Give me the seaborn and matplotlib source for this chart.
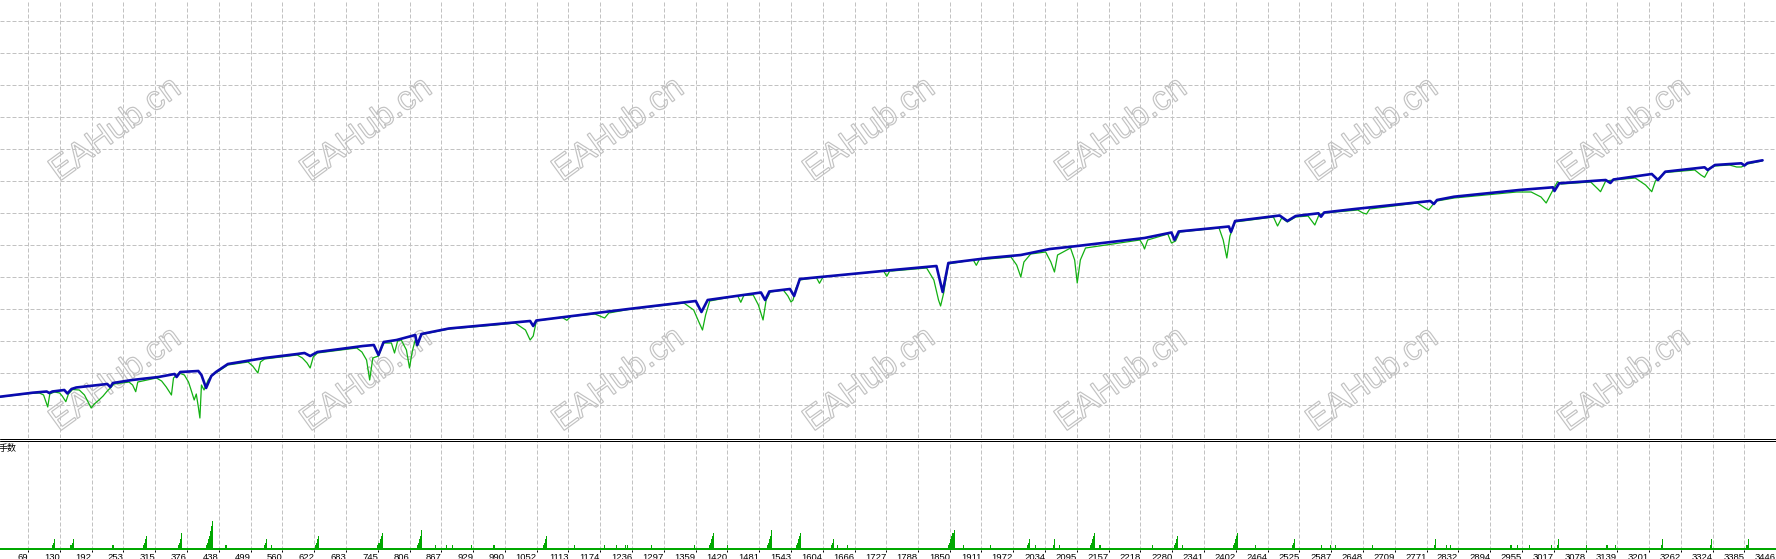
import numpy as np
import pandas as pd
import matplotlib
matplotlib.use("Agg")
import matplotlib.pyplot as plt
import seaborn as sns
from matplotlib.textpath import TextPath
from matplotlib.patches import PathPatch
from matplotlib.font_manager import FontProperties, findfont
from matplotlib.transforms import Affine2D, IdentityTransform
from matplotlib.lines import Line2D

# ---------------- data ----------------
tick_labels = [69, 130, 192, 253, 315, 376, 438, 499, 560, 622, 683, 745, 806, 867, 929, 990,
               1052, 1113, 1174, 1236, 1297, 1359, 1420, 1481, 1543, 1604, 1666, 1727, 1788,
               1850, 1911, 1972, 2034, 2095, 2157, 2218, 2280, 2341, 2402, 2464, 2525, 2587,
               2648, 2709, 2771, 2832, 2894, 2955, 3017, 3078, 3139, 3201, 3262, 3324, 3385, 3446]

balance_trade = [0, 15, 78, 105, 110, 116, 139, 145, 153, 162, 222, 228, 233, 270, 321, 352, 356,
                 363, 398, 404, 413, 423, 432, 455, 526, 589, 603, 614, 628, 716, 737, 746, 756,
                 781, 817, 821, 829, 882, 1039, 1045, 1051, 1229, 1359, 1370, 1382, 1485, 1493,
                 1501, 1541, 1549, 1560, 1750, 1824, 1836, 1847, 1924, 1987, 2043, 2096, 2226,
                 2278, 2284, 2292, 2389, 2393, 2401, 2487, 2502, 2518, 2562, 2567, 2573, 2632,
                 2778, 2785, 2791, 2824, 2950, 3015, 3018, 3027, 3117, 3126, 3132, 3206, 3218,
                 3232, 3308, 3314, 3328, 3379, 3385, 3391, 3420]
balance_value = [10083, 10086, 10126, 10138, 10123, 10138, 10153, 10118, 10163, 10178, 10213,
                 10183, 10223, 10253, 10283, 10313, 10283, 10333, 10343, 10303, 10173, 10293,
                 10333, 10413, 10473, 10513, 10523, 10493, 10533, 10593, 10603, 10503, 10633,
                 10653, 10703, 10603, 10713, 10768, 10843, 10793, 10848, 10963, 11043, 10933,
                 11053, 11128, 11053, 11138, 11163, 11093, 11263, 11358, 11393, 11133, 11423,
                 11473, 11503, 11563, 11593, 11673, 11728, 11653, 11738, 11788, 11733, 11843,
                 11898, 11843, 11893, 11920, 11886, 11928, 11963, 12043, 12013, 12053, 12086,
                 12153, 12180, 12143, 12220, 12253, 12223, 12258, 12313, 12253, 12336, 12380,
                 12353, 12403, 12420, 12398, 12423, 12450]

equity_trade = [0, 15, 72, 91, 99, 107, 111, 120, 130, 135,
                142, 147, 155, 168, 178, 185, 191, 197, 206, 214,
                222, 228, 235, 264, 271, 277, 281, 317, 327, 336,
                346, 350, 361, 371, 379, 384, 390, 394, 398, 401,
                404, 409, 417, 423, 455, 494, 503, 513, 518, 526,
                589, 599, 608, 614, 620, 628, 704, 714, 723, 729,
                735, 746, 756, 771, 777, 783, 790, 800, 806, 811,
                817, 821, 829, 882, 972, 1010, 1030, 1039, 1045, 1051,
                1100, 1110, 1118, 1164, 1183, 1191, 1229, 1336, 1355, 1365, 1372, 1378, 1386,
                1440, 1446, 1452,
                1470, 1480, 1489, 1495, 1503, 1528, 1537, 1543, 1547, 1552,
                1560, 1592, 1598, 1605, 1722, 1728, 1734, 1738, 1805, 1819, 1828, 1832, 1838,
                1847, 1895, 1901, 1907, 1924, 1968,
                1979, 1987, 1993, 2006, 2035, 2045, 2052, 2058, 2083, 2091,
                2096, 2102, 2112, 2217, 2223, 2226, 2232, 2271, 2278, 2286,
                2294, 2370, 2378, 2385, 2391, 2401, 2475, 2483, 2491, 2502,
                2518, 2542, 2555, 2563, 2573, 2638, 2648, 2655, 2661, 2753,
                2768, 2775, 2784, 2791, 2824, 2945, 2973, 2992, 3002, 3012,
                3024, 3031, 3088, 3102, 3107, 3117, 3132, 3174, 3194, 3206,
                3213, 3232, 3289, 3301, 3308, 3318, 3328, 3356, 3370, 3379,
                3391, 3420]
equity_value = [10083, 10083, 10118, 10123, 10103, 9983, 10113, 10133, 10123, 10093,
                10036, 10113, 10158, 10153, 10103, 10033, 9973, 10013, 10053, 10093,
                10143, 10173, 10213, 10233, 10203, 10136, 10233, 10273, 10243, 10183,
                10103, 10273, 10323, 10303, 10233, 10153, 10053, 10113, 9983, 9873,
                10203, 10153, 10253, 10293, 10403, 10433, 10393, 10323, 10433, 10463,
                10503, 10473, 10423, 10373, 10483, 10523, 10573, 10533, 10453, 10253,
                10473, 10493, 10623, 10623, 10523, 10643, 10653, 10553, 10373, 10533,
                10653, 10593, 10708, 10763, 10803, 10823, 10753, 10653, 10693, 10843,
                10882, 10850, 10890, 10913, 10873, 10923, 10958, 11023, 10953, 10833, 10753, 10903, 11043,
                11095, 11030, 11100,
                11103, 11003, 10853, 11053, 11133, 11153, 11093, 11033, 11053, 11163,
                11253, 11278, 11220, 11285, 11343, 11290, 11346, 11343, 11373, 11253, 11053, 10993, 11123,
                11413, 11455, 11400, 11460, 11463, 11483,
                11403, 11283, 11433, 11513, 11533, 11433, 11333, 11503, 11573, 11453,
                11223, 11453, 11573, 11653, 11603, 11563, 11653, 11713, 11623, 11643,
                11733, 11773, 11653, 11473, 11693, 11833, 11883, 11793, 11873, 11833,
                11883, 11893, 11803, 11903, 11923, 11953, 11923, 11913, 11963, 12023,
                11973, 11953, 12013, 12043, 12073, 12133, 12133, 12083, 12023, 12123,
                12236, 12213, 12233, 12163, 12136, 12243, 12253, 12273, 12203, 12136,
                12243, 12328, 12353, 12303, 12280, 12373, 12393, 12403, 12383, 12383,
                12413, 12445]

base_lot = 0.01          # lot of every ordinary trade
trade_count = 3450

spike_trade = [116, 118, 120,
               152, 154, 156,
               233, 235,
               292, 294, 296, 298,
               360, 362, 364, 366,
               413, 415, 417, 419, 421, 423, 425,
               450, 452,
               525, 527, 529,
               540,
               625, 627, 629, 631,
               745, 747, 749, 751, 753,
               822, 824, 826, 828, 830,
               856, 878, 889, 925, 968, 970,
               1064, 1066, 1068, 1070,
               1125, 1182, 1206, 1224, 1228, 1274, 1356,
               1385, 1387, 1389, 1391, 1393,
               1420,
               1497, 1499, 1501, 1503, 1505,
               1553, 1555, 1557, 1559, 1561,
               1621, 1623, 1625,
               1633, 1652,
               1848, 1850, 1852, 1854, 1856, 1858,
               1877, 1929,
               2000, 2002, 2004,
               2016,
               2051, 2053,
               2062,
               2121, 2123, 2125, 2127, 2129,
               2140, 2242,
               2283, 2285, 2287, 2289,
               2299,
               2398, 2400, 2402, 2404, 2406,
               2440,
               2512, 2514, 2516,
               2567, 2586, 2595, 2666,
               2786, 2788,
               2810, 2817, 2934, 2946, 2970, 3013,
               3024, 3026,
               3080, 3118, 3120, 3135,
               3225, 3227,
               3320, 3322,
               3390, 3392]
spike_lot = [0.02, 0.03, 0.045,
             0.02, 0.03, 0.045,
             0.02, 0.02,
             0.02, 0.03, 0.045, 0.06,
             0.02, 0.03, 0.045, 0.07,
             0.02, 0.03, 0.045, 0.06, 0.08, 0.10, 0.12,
             0.02, 0.02,
             0.02, 0.03, 0.045,
             0.02,
             0.02, 0.03, 0.045, 0.06,
             0.02, 0.03, 0.045, 0.06, 0.07,
             0.02, 0.03, 0.045, 0.06, 0.083,
             0.02, 0.02, 0.02, 0.02, 0.02, 0.02,
             0.02, 0.03, 0.045, 0.06,
             0.02, 0.02, 0.02, 0.02, 0.02, 0.02, 0.02,
             0.02, 0.03, 0.045, 0.06, 0.07,
             0.02,
             0.02, 0.03, 0.045, 0.06, 0.083,
             0.02, 0.03, 0.045, 0.06, 0.07,
             0.02, 0.03, 0.045,
             0.02, 0.02,
             0.02, 0.03, 0.045, 0.06, 0.07, 0.083,
             0.02, 0.02,
             0.02, 0.03, 0.045,
             0.02,
             0.02, 0.045,
             0.02,
             0.02, 0.03, 0.045, 0.06, 0.07,
             0.02, 0.02,
             0.02, 0.03, 0.045, 0.06,
             0.02,
             0.02, 0.03, 0.045, 0.06, 0.07,
             0.02,
             0.02, 0.03, 0.045,
             0.02, 0.02, 0.02, 0.02,
             0.02, 0.045,
             0.02, 0.02, 0.02, 0.02, 0.02, 0.02,
             0.02, 0.045,
             0.02, 0.02, 0.02, 0.02,
             0.02, 0.045,
             0.02, 0.045,
             0.02, 0.045]

panel_label = "手数"
watermark = "EAHub.cn"

# ---------------- style ----------------
sns.set_theme(style="white")
plt.rcParams["font.family"] = ["Liberation Sans", "DejaVu Sans"]

# narrow font for the trade-number labels if available
try:
    findfont(FontProperties(family="Liberation Sans Narrow"), fallback_to_default=False)
    tick_family = "Liberation Sans Narrow"
    tick_size = 7.4
except Exception:
    tick_family = "Liberation Sans"
    tick_size = 6.8

W, H, DPI = 1776, 559, 100
BLUE = "#0a0ab0"
GREEN_EQ = "#12b012"
GREEN_BAR = "#00a800"
GRID = "#c2c2c2"
XLIM = (14.8, 3415.7)

fig = plt.figure(figsize=(W / DPI, H / DPI), dpi=DPI, facecolor="white")

# watermark (behind everything)
fp = FontProperties(family="Liberation Sans")
tp = TextPath((0, 0), watermark, size=34, prop=fp)
bb = tp.get_extents()
for cy in (127, 377):
    for cx in (114, 365, 617, 868, 1120, 1371, 1623):
        tr = (Affine2D().translate(-(bb.x0 + bb.x1) / 2, -(bb.y0 + bb.y1) / 2)
              .rotate_deg(36).translate(cx, H - cy))
        fig.add_artist(PathPatch(tr.transform_path(tp), facecolor="none", edgecolor="#c2c2c2",
                                 linewidth=0.85, transform=IdentityTransform(), zorder=-5))

# main panel
ax = fig.add_axes([0, 1 - 438 / H, 1, 438 / H])
ax.set_facecolor("none")
df_eq = pd.DataFrame({"trade": equity_trade, "value": equity_value})
df_bal = pd.DataFrame({"trade": balance_trade, "value": balance_value})
sns.lineplot(data=df_eq, x="trade", y="value", color=GREEN_EQ, linewidth=0.9,
             estimator=None, sort=False, ax=ax, zorder=3)
sns.lineplot(data=df_bal, x="trade", y="value", color=BLUE, linewidth=1.9,
             estimator=None, sort=False, ax=ax, zorder=4)
ax.set_xlim(*XLIM)
ax.set_ylim(9673, 14053)
ax.set_xticks(tick_labels)
ax.set_yticks(np.arange(10000, 13841, 320))
ax.tick_params(labelbottom=False, labelleft=False, length=0)
ax.set_xlabel("")
ax.set_ylabel("")
ax.grid(True, color=GRID, linestyle=(0, (4, 2)), linewidth=0.72)
ax.set_axisbelow(True)
for s in ax.spines.values():
    s.set_visible(False)

# lot panel
axl = fig.add_axes([0, 1 - 550 / H, 1, (550 - 441) / H])
axl.set_facecolor("none")
axl.fill_between([0, trade_count], 0, base_lot, color=GREEN_BAR, linewidth=0, zorder=3)
axl.bar(spike_trade, spike_lot, width=2.0, color=GREEN_BAR, linewidth=0, zorder=3)
axl.set_xlim(*XLIM)
axl.set_ylim(0, 0.4542)
axl.set_xticks(tick_labels)
axl.set_xticklabels([str(t) for t in tick_labels])
axl.set_yticks([])
axl.tick_params(axis="x", length=1.5, width=0.72, color="black", labelsize=tick_size,
                labelcolor="black", pad=0.8, direction="out", bottom=True)
for lbl in axl.get_xticklabels():
    lbl.set_horizontalalignment("right")
    lbl.set_family(tick_family)
axl.grid(True, axis="x", color=GRID, linestyle=(0, (4, 2)), linewidth=0.72)
axl.set_axisbelow(True)
for s in axl.spines.values():
    s.set_visible(False)

# separator double line
for yy in (438.5, 440.5):
    fig.add_artist(Line2D([0, 1], [1 - yy / H] * 2, transform=fig.transFigure,
                          color="black", linewidth=0.72))

fig.text(-1 / W, 1 - 448 / H, panel_label, ha="left", va="center", fontsize=6.5,
         family=["Noto Sans CJK SC", "DejaVu Sans"], color="black")

fig.savefig("out.png", dpi=DPI, facecolor="white")
